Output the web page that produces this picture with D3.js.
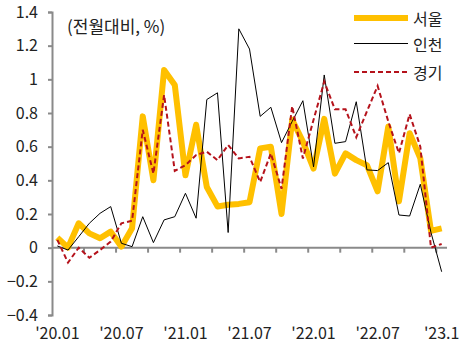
<!DOCTYPE html>
<html>
<head>
<meta charset="utf-8">
<script src="https://cdn.jsdelivr.net/npm/d3@7"></script>
<style>
  body { margin: 0; background: #fff; }
  text { font-family: 'Malgun Gothic', 'Noto Sans CJK KR', sans-serif; }
</style>
</head>
<body>
<div id="chart"></div>
<script>
const months = [
  '2020.01','2020.02','2020.03','2020.04','2020.05','2020.06','2020.07','2020.08','2020.09','2020.10','2020.11','2020.12',
  '2021.01','2021.02','2021.03','2021.04','2021.05','2021.06','2021.07','2021.08','2021.09','2021.10','2021.11','2021.12',
  '2022.01','2022.02','2022.03','2022.04','2022.05','2022.06','2022.07','2022.08','2022.09','2022.10','2022.11','2022.12',
  '2023.01'
];

const seoul = [0.06, 0.00, 0.145, 0.085, 0.056, 0.095, 0.006, 0.115, 0.78, 0.40, 1.055, 0.967,
  0.43, 0.73, 0.36, 0.245, 0.255, 0.26, 0.27, 0.59, 0.60, 0.20, 0.76, 0.63,
  0.47, 0.765, 0.44, 0.56, 0.52, 0.49, 0.335, 0.72, 0.275, 0.68, 0.53, 0.10, 0.115];

const incheon = [0.01, -0.014, 0.065, 0.145, 0.204, 0.244, 0.026, 0.006, 0.184, 0.03, 0.165, 0.184,
  0.323, 0.175, 0.88, 0.92, 0.09, 1.30, 1.18, 0.78, 0.834, 0.624, 0.75, 0.873,
  0.48, 1.026, 0.62, 0.63, 0.867, 0.462, 0.458, 0.505, 0.194, 0.188, 0.377, 0.09, -0.143];

const gyeonggi = [0.046, -0.089, 0.0, -0.06, -0.014, 0.036, 0.145, 0.16, 0.70, 0.44, 0.907, 0.456,
  0.49, 0.55, 0.57, 0.52, 0.61, 0.53, 0.54, 0.39, 0.56, 0.35, 0.84, 0.53,
  0.76, 0.986, 0.822, 0.822, 0.656, 0.81, 0.961, 0.75, 0.561, 0.793, 0.60, 0.0, 0.022];

const seriesNames = ['서울', '인천', '경기'];
const yTicks = [-0.4, -0.2, 0, 0.2, 0.4, 0.6, 0.8, 1, 1.2, 1.4];
const xLabelMonths = ['2020.01', '2020.07', '2021.01', '2021.07', '2022.01', '2022.07', '2023.01'];
const xLabels = ["'20.01", "'20.07", "'21.01", "'21.07", "'22.01", "'22.07", "'23.1"];

const width = 472;
const height = 351;
const axisColor = '#8a8a8a';

const svg = d3.select('#chart')
  .append('svg')
  .attr('width', width)
  .attr('height', height);

const x = d3.scaleBand()
  .domain(months)
  .range([52, 447])
  .paddingInner(0)
  .paddingOuter(0);

const y = d3.scaleLinear()
  .domain([-0.4, 1.4])
  .range([315, 12]);

const cx = m => x(m) + x.bandwidth() / 2;

// y axis
const yAxis = svg.append('g')
  .attr('transform', 'translate(52,0)')
  .call(d3.axisLeft(y)
    .tickValues(yTicks)
    .tickSize(4)
    .tickPadding(10)
    .tickSizeOuter(4)
    .tickFormat(d => d3.format('')(+d.toFixed(1))));

yAxis.select('.domain').attr('stroke', axisColor).attr('stroke-width', 2);
yAxis.selectAll('.tick line').attr('stroke', axisColor).attr('stroke-width', 2);
yAxis.selectAll('.tick text')
  .attr('fill', '#222')
  .style('font-size', '16px');

// x axis along zero
svg.append('line')
  .attr('x1', 52).attr('x2', 447)
  .attr('y1', y(0)).attr('y2', y(0))
  .attr('stroke', axisColor)
  .attr('stroke-width', 2);

// tick marks every 3 months at band boundaries
const tickBounds = months.filter((m, i) => i > 0 && i % 3 === 0);
svg.selectAll('.xtick')
  .data(tickBounds)
  .enter()
  .append('line')
  .attr('class', 'xtick')
  .attr('x1', d => x(d)).attr('x2', d => x(d))
  .attr('y1', y(0)).attr('y2', y(0) + 5)
  .attr('stroke', axisColor)
  .attr('stroke-width', 2);

svg.selectAll('.xlabel')
  .data(xLabelMonths)
  .enter()
  .append('text')
  .attr('class', 'xlabel')
  .attr('x', d => cx(d))
  .attr('y', 339)
  .attr('text-anchor', 'middle')
  .attr('fill', '#222')
  .style('font-size', '16px')
  .text((d, i) => xLabels[i]);

// lines
const line = d3.line()
  .x((d, i) => cx(months[i]))
  .y(d => y(d));

svg.append('path')
  .datum(seoul)
  .attr('fill', 'none')
  .attr('stroke', '#FFC000')
  .attr('stroke-width', 6)
  .attr('stroke-linejoin', 'round')
  .attr('d', line);

svg.append('path')
  .datum(incheon)
  .attr('fill', 'none')
  .attr('stroke', '#000')
  .attr('stroke-width', 1)
  .attr('d', line);

svg.append('path')
  .datum(gyeonggi)
  .attr('fill', 'none')
  .attr('stroke', '#B5121B')
  .attr('stroke-width', 2)
  .attr('stroke-dasharray', '5,3')
  .attr('d', line);

// unit label
svg.append('text')
  .attr('x', 67)
  .attr('y', 33)
  .attr('fill', '#222')
  .style('font-size', '17px')
  .text('(전월대비, %)');

// legend
const legendY = [18, 43.5, 72];
const legendStyles = [
  { stroke: '#FFC000', width: 6, dash: null },
  { stroke: '#000', width: 1, dash: null },
  { stroke: '#B5121B', width: 2, dash: '5,3' }
];

const legendG = svg.append('g');

legendG.selectAll('.legend-line')
  .data(seriesNames)
  .enter()
  .append('line')
  .attr('x1', 354).attr('x2', 408)
  .attr('y1', (d, i) => legendY[i]).attr('y2', (d, i) => legendY[i])
  .attr('stroke', (d, i) => legendStyles[i].stroke)
  .attr('stroke-width', (d, i) => legendStyles[i].width)
  .attr('stroke-dasharray', (d, i) => legendStyles[i].dash);

legendG.selectAll('.legend-label')
  .data(seriesNames)
  .enter()
  .append('text')
  .attr('x', 413)
  .attr('y', (d, i) => legendY[i])
  .attr('dominant-baseline', 'central')
  .attr('fill', '#222')
  .style('font-size', '16px')
  .text(d => d);
</script>
</body>
</html>
